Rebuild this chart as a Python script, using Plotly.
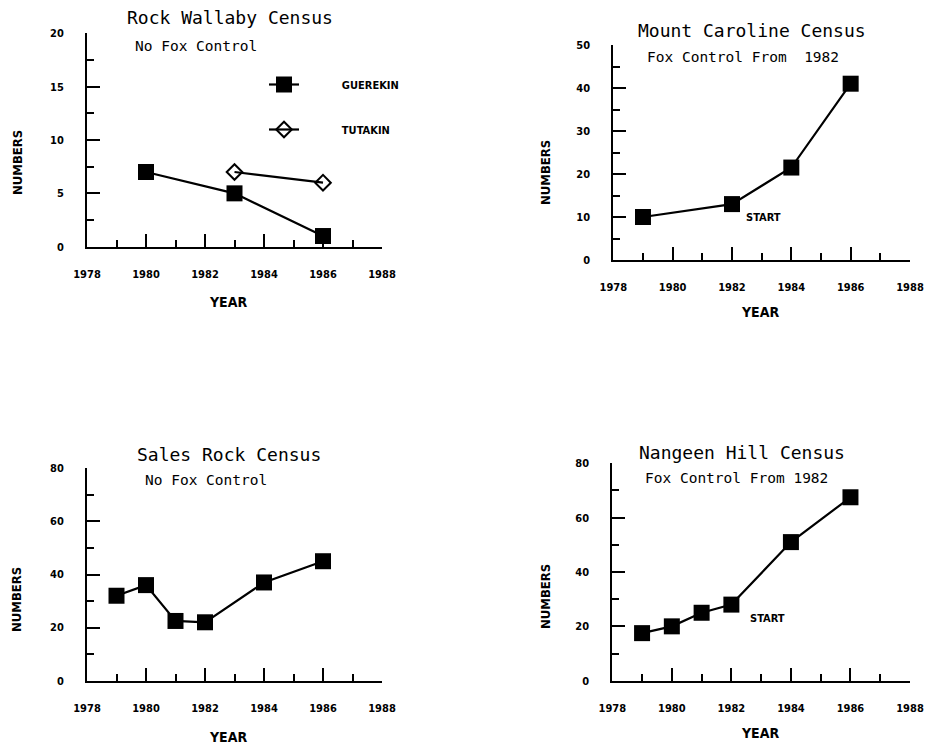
import plotly.graph_objects as go

W, H = 925, 749

# ---- data ----
rw_guer_years = [1980, 1983, 1986]
rw_guer_vals = [7, 5, 1]
rw_tuta_years = [1983, 1986]
rw_tuta_vals = [7, 6]

mc_years = [1979, 1982, 1984, 1986]
mc_vals = [10, 13, 21.5, 41]

sr_years = [1979, 1980, 1981, 1982, 1984, 1986]
sr_vals = [32, 36, 22.5, 22, 37, 45]

nh_years = [1979, 1980, 1981, 1982, 1984, 1986]
nh_vals = [17.5, 20, 25, 28, 51, 67.5]

titles = ["Rock Wallaby Census", "Mount Caroline Census", "Sales Rock Census", "Nangeen Hill Census"]
subtitles = ["No Fox Control", "Fox Control From  1982", "No Fox Control", "Fox Control From 1982"]
y_ranges = [(0, 20), (0, 50), (0, 80), (0, 80)]
y_dticks = [5, 10, 20, 20]

MONO = "DejaVu Sans Mono, Liberation Mono, monospace"
COND = "DejaVu Sans Condensed, Liberation Sans Narrow, Roboto Condensed, DejaVu Sans, sans-serif"


def px_x(p):
    return p / W


def px_y(p):
    return 1 - p / H


# panel geometry (pixels): left, right, top, bottom
panels = [
    (87, 382, 33.3, 246.7),
    (613.3, 910, 45, 260),
    (87, 382, 468.3, 680.7),
    (612.3, 910, 463.3, 680.7),
]

fig = go.Figure()

line_style = dict(color="black", width=2.2)
sq = dict(symbol="square", size=16, color="black")
pad = "\u00a0" * 11

fig.add_trace(go.Scatter(x=rw_guer_years, y=rw_guer_vals, mode="lines+markers", name=pad + "GUEREKIN",
                         line=line_style, marker=sq, xaxis="x", yaxis="y", legendgroup="g1", cliponaxis=False))
fig.add_trace(go.Scatter(x=rw_tuta_years, y=rw_tuta_vals, mode="lines+markers", name=pad + "TUTAKIN",
                         line=line_style,
                         marker=dict(symbol="diamond-open", size=12, color="black", line=dict(width=2, color="black")),
                         xaxis="x", yaxis="y", legendgroup="g2", cliponaxis=False))
fig.add_trace(go.Scatter(x=mc_years, y=mc_vals, mode="lines+markers", line=line_style, marker=sq,
                         xaxis="x2", yaxis="y2", showlegend=False, cliponaxis=False))
fig.add_trace(go.Scatter(x=sr_years, y=sr_vals, mode="lines+markers", line=line_style, marker=sq,
                         xaxis="x3", yaxis="y3", showlegend=False, cliponaxis=False))
fig.add_trace(go.Scatter(x=nh_years, y=nh_vals, mode="lines+markers", line=line_style, marker=sq,
                         xaxis="x4", yaxis="y4", showlegend=False, cliponaxis=False))

layout = dict(
    width=W, height=H,
    margin=dict(l=0, r=0, t=0, b=0, autoexpand=False),
    paper_bgcolor="white", plot_bgcolor="white",
    showlegend=True,
    legend=dict(x=px_x(264), y=px_y(70), xanchor="left", yanchor="top",
                bgcolor="rgba(0,0,0,0)", tracegroupgap=26,
                font=dict(family=COND, size=11, color="black", weight="bold")),
)

tickfont = dict(family=COND, size=11, color="black", weight="bold")

for i, (l, r, t, b) in enumerate(panels):
    sfx = "" if i == 0 else str(i + 1)
    layout["xaxis" + sfx] = dict(
        domain=[px_x(l), px_x(r)], range=[1978, 1988], anchor="y" + sfx,
        tickmode="linear", tick0=1978, dtick=2, ticks="inside", ticklen=13, tickwidth=2, tickcolor="black",
        minor=dict(tickmode="linear", tick0=1978, dtick=1, ticks="inside", ticklen=7, tickwidth=2, tickcolor="black"),
        showline=True, linewidth=2, linecolor="black", showgrid=False, zeroline=False,
        tickfont=tickfont, ticklabelstandoff=16,
    )
    y0, y1 = y_ranges[i]
    layout["yaxis" + sfx] = dict(
        domain=[px_y(b), px_y(t)], range=[y0, y1], anchor="x" + sfx,
        tickmode="linear", tick0=0, dtick=y_dticks[i], ticks="inside", ticklen=13, tickwidth=2, tickcolor="black",
        minor=dict(tickmode="linear", tick0=0, dtick=y_dticks[i] / 2, ticks="inside", ticklen=7, tickwidth=2, tickcolor="black"),
        showline=True, linewidth=2, linecolor="black", showgrid=False, zeroline=False,
        tickfont=tickfont, ticklabelstandoff=19,
    )

fig.update_layout(**layout)

ann = []
title_pos = [(230, 17), (752, 30), (229, 455), (742, 452)]
sub_pos = [(133, 46), (645, 57), (143, 480), (643, 478)]
num_pos = [(18, 163), (545, 173), (16, 600), (545, 597)]
year_pos = [(228, 302), (760, 312), (228, 737), (760, 733)]

for i in range(4):
    tx, ty = title_pos[i]
    ann.append(dict(text=titles[i], x=px_x(tx), y=px_y(ty), xref="paper", yref="paper",
                    xanchor="center", yanchor="middle", showarrow=False,
                    font=dict(family=MONO, size=18, color="black")))
    sx, sy = sub_pos[i]
    ann.append(dict(text=subtitles[i], x=px_x(sx), y=px_y(sy), xref="paper", yref="paper",
                    xanchor="left", yanchor="middle", showarrow=False,
                    font=dict(family=MONO, size=14.5, color="black")))
    nx, ny = num_pos[i]
    ann.append(dict(text="NUMBERS", x=px_x(nx), y=px_y(ny), xref="paper", yref="paper",
                    xanchor="center", yanchor="middle", showarrow=False, textangle=-90,
                    font=dict(family=COND, size=13, color="black", weight="bold")))
    yx, yy = year_pos[i]
    ann.append(dict(text="YEAR", x=px_x(yx), y=px_y(yy), xref="paper", yref="paper",
                    xanchor="center", yanchor="middle", showarrow=False,
                    font=dict(family=COND, size=14, color="black", weight="bold")))

ann.append(dict(text="START", x=1983.05, y=9.8, xref="x2", yref="y2", showarrow=False,
                xanchor="center", yanchor="middle", font=dict(family=COND, size=11, color="black", weight="bold")))
ann.append(dict(text="START", x=1983.2, y=23, xref="x4", yref="y4", showarrow=False,
                xanchor="center", yanchor="middle", font=dict(family=COND, size=11, color="black", weight="bold")))

fig.update_layout(annotations=ann)

fig.write_html("out.html")
